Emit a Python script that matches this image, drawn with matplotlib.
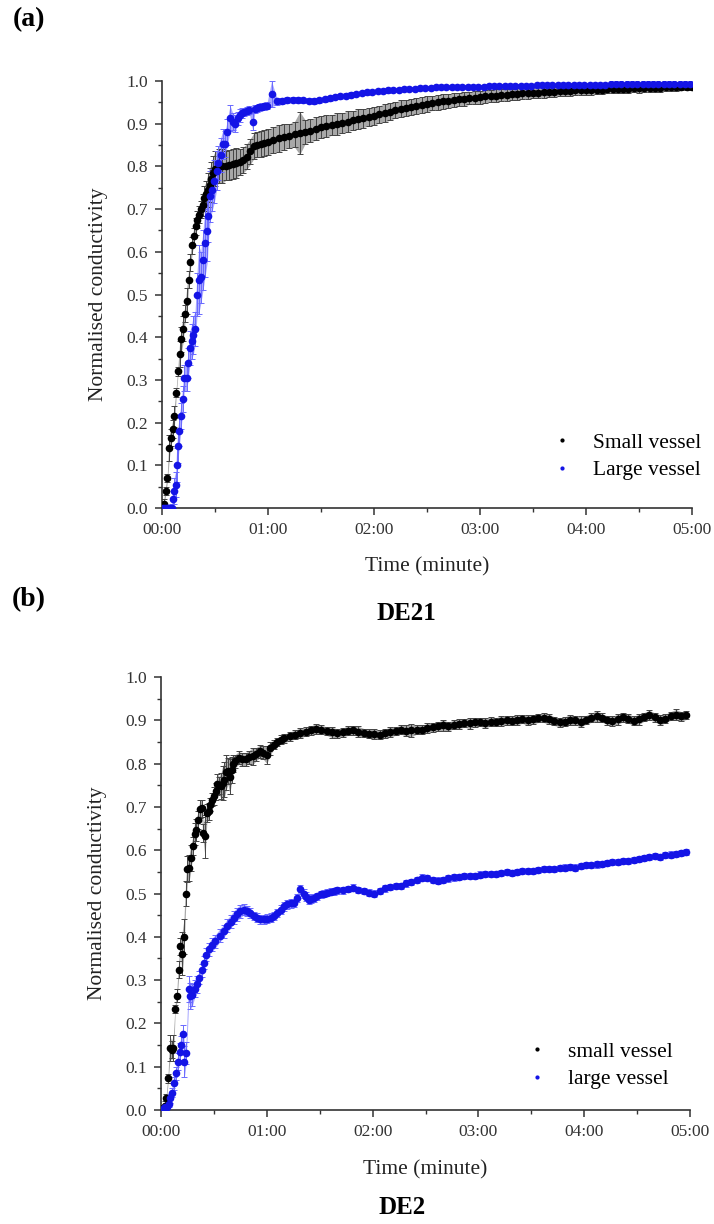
import numpy as np
import matplotlib
matplotlib.use('Agg')
from matplotlib import pyplot as plt

plt.rcParams['font.family'] = ['Liberation Serif', 'DejaVu Serif']

# ---- DE21, small vessel (time in s) ----
a_small_t1 = [0, 1, 2, 3, 4, 5, 6, 7, 8, 9, 10, 11, 12, 13, 14, 15, 16, 17, 18, 19, 20, 21, 22, 23, 24, 25, 26, 27, 28, 29, 30,
              32, 34, 36, 38, 40, 42, 44, 46, 48, 50, 52, 54, 56, 58]
a_small_y1 = [0.0, 0.01, 0.04, 0.07, 0.14, 0.165, 0.185, 0.215, 0.27, 0.32, 0.36, 0.395, 0.42, 0.455, 0.485, 0.535, 0.575,
              0.615, 0.636, 0.66, 0.675, 0.687, 0.70, 0.71, 0.725, 0.735, 0.745, 0.757, 0.77, 0.785, 0.795,
              0.80, 0.80, 0.802, 0.803, 0.805, 0.807, 0.81, 0.815, 0.823, 0.835, 0.848, 0.851, 0.853, 0.855]
a_small_e1 = [0.005, 0.01, 0.01, 0.01, 0.03, 0.02, 0.02, 0.025, 0.01, 0.01, 0.03, 0.03, 0.03, 0.02, 0.03, 0.02, 0.02,
              0.02, 0.02, 0.02, 0.02, 0.02, 0.02, 0.025, 0.03, 0.03, 0.04, 0.04, 0.04, 0.04, 0.04,
              0.04, 0.04, 0.035, 0.035, 0.035, 0.035, 0.03, 0.03, 0.03, 0.03, 0.03, 0.03, 0.03, 0.03]
a_small_t2 = [60, 63, 66, 69, 72, 75, 78, 81, 84, 87, 90, 93, 96, 99, 102, 105, 108, 111, 114, 117,
              120, 123, 126, 129, 132, 135, 138, 141, 144, 147, 150, 153, 156, 159, 162, 165, 168, 171, 174, 177,
              180, 183, 186, 189, 192, 195, 198, 201, 204, 207, 210, 213, 216, 219, 222, 225, 228, 231, 234, 237,
              240, 243, 246, 249, 252, 255, 258, 261, 264, 267, 270, 273, 276, 279, 282, 285, 288, 291, 294, 297, 300]
a_small_y2 = [0.857, 0.862, 0.866, 0.869, 0.872, 0.875, 0.878, 0.881, 0.884, 0.888, 0.892, 0.894, 0.897, 0.899, 0.902,
              0.905, 0.908, 0.911, 0.913, 0.916, 0.918, 0.922, 0.925, 0.928, 0.932, 0.935, 0.937, 0.939, 0.942, 0.944,
              0.946, 0.948, 0.950, 0.952, 0.953, 0.955, 0.957, 0.958, 0.960, 0.961, 0.962, 0.964, 0.965, 0.966, 0.967,
              0.968, 0.969, 0.970, 0.971, 0.972, 0.973, 0.973, 0.974, 0.975, 0.975, 0.976, 0.977, 0.977, 0.978, 0.978,
              0.979, 0.979, 0.980, 0.980, 0.981, 0.981, 0.982, 0.982, 0.982, 0.983, 0.983, 0.983, 0.984, 0.984, 0.984,
              0.985, 0.985, 0.985, 0.986, 0.986, 0.986]
a_small_e2 = [0.03, 0.03, 0.032, 0.03, 0.028, 0.03, 0.05, 0.028, 0.026, 0.027, 0.025, 0.026, 0.024, 0.025, 0.023,
              0.024, 0.022, 0.023, 0.022, 0.021, 0.022, 0.02, 0.021, 0.02, 0.019, 0.02, 0.019, 0.018, 0.019, 0.018,
              0.018, 0.017, 0.018, 0.017, 0.016, 0.017, 0.016, 0.016, 0.015, 0.016, 0.015, 0.015, 0.014, 0.015, 0.014,
              0.014, 0.013, 0.014, 0.013, 0.013, 0.013, 0.012, 0.013, 0.012, 0.012, 0.012, 0.011, 0.012, 0.011, 0.011,
              0.011, 0.011, 0.01, 0.011, 0.01, 0.01, 0.01, 0.01, 0.01, 0.009, 0.01, 0.009, 0.009, 0.009, 0.009,
              0.009, 0.008, 0.009, 0.008, 0.008, 0.008]

# ---- DE21, large vessel ----
a_large_t1 = [0.6, 1.7, 2.6, 3.6, 4.5, 5.5, 6.0, 6.8, 7.7, 8.3, 8.9, 9.8, 10.8, 11.7, 12.6, 14.0, 14.9, 15.8, 16.8, 17.7,
              18.7, 19.8, 20.8, 22.0, 23.2, 24.3, 25.7, 26.2, 27.2, 28.3, 29.6, 30.9, 31.9, 33.2, 34.7, 35.8, 37.0, 38.5,
              40.0, 41.3, 42.8, 44.0, 45.0, 46.5, 48.0, 49.5, 51.3, 52.5, 53.6, 55.0, 56.5, 58.0, 59.5]
a_large_y1 = [0.0, 0.0, 0.0, 0.0, 0.0, 0.0, 0.02, 0.04, 0.055, 0.10, 0.145, 0.18, 0.215, 0.255, 0.305, 0.305, 0.34, 0.375,
              0.39, 0.405, 0.42, 0.50, 0.535, 0.54, 0.58, 0.62, 0.648, 0.683, 0.73, 0.745, 0.765, 0.79, 0.808, 0.827,
              0.853, 0.853, 0.88, 0.913, 0.905, 0.90, 0.913, 0.92, 0.925, 0.927, 0.93, 0.932, 0.905, 0.934, 0.936,
              0.938, 0.94, 0.941, 0.942]
a_large_e1 = [0.005, 0.005, 0.005, 0.005, 0.005, 0.01, 0.02, 0.03, 0.03, 0.04, 0.04, 0.035, 0.03, 0.03, 0.03, 0.03, 0.035,
              0.04, 0.04, 0.045, 0.04, 0.05, 0.08, 0.06, 0.07, 0.08, 0.07, 0.06, 0.06, 0.05, 0.05, 0.045, 0.04, 0.04,
              0.035, 0.03, 0.03, 0.03, 0.02, 0.02, 0.015, 0.015, 0.012, 0.01, 0.01, 0.01, 0.02, 0.01, 0.008, 0.008,
              0.008, 0.008, 0.008]
a_large_t2 = [62, 65, 68, 71, 74, 77, 80, 83, 86, 89, 92, 95, 98, 101, 104, 107, 110, 113, 116, 119,
              122, 125, 128, 131, 134, 137, 140, 143, 146, 149, 152, 155, 158, 161, 164, 167, 170, 173, 176, 179,
              182, 185, 188, 191, 194, 197, 200, 203, 206, 209, 212, 215, 218, 221, 224, 227, 230, 233, 236, 239,
              242, 245, 248, 251, 254, 257, 260, 263, 266, 269, 272, 275, 278, 281, 284, 287, 290, 293, 296, 299]
a_large_y2 = [0.97, 0.952, 0.954, 0.955, 0.956, 0.956, 0.955, 0.954, 0.953, 0.955, 0.957, 0.96, 0.962, 0.964, 0.966,
              0.968, 0.97, 0.972, 0.974, 0.975, 0.976, 0.977, 0.978, 0.979, 0.98, 0.981, 0.982, 0.982, 0.983, 0.984,
              0.984, 0.985, 0.985, 0.985, 0.986, 0.986, 0.986, 0.987, 0.987, 0.987, 0.987, 0.988, 0.988, 0.988, 0.988,
              0.989, 0.989, 0.989, 0.989, 0.989, 0.99, 0.99, 0.99, 0.99, 0.99, 0.99, 0.99, 0.991, 0.991, 0.991,
              0.991, 0.991, 0.991, 0.991, 0.992, 0.992, 0.992, 0.992, 0.992, 0.992, 0.992, 0.992, 0.993, 0.993, 0.993,
              0.993, 0.993, 0.993, 0.993, 0.993]
a_large_e2 = [0.03, 0.008, 0.007, 0.007, 0.006, 0.007, 0.006, 0.006, 0.007, 0.006, 0.006, 0.006, 0.005, 0.006, 0.005,
              0.006, 0.005, 0.005, 0.006, 0.005, 0.005, 0.005, 0.005, 0.005, 0.004, 0.005, 0.004, 0.005, 0.004, 0.004,
              0.004, 0.004, 0.004, 0.004, 0.004, 0.004, 0.004, 0.004, 0.004, 0.004, 0.004, 0.004, 0.004, 0.004, 0.004,
              0.004, 0.004, 0.004, 0.004, 0.004, 0.004, 0.004, 0.004, 0.004, 0.004, 0.004, 0.004, 0.004, 0.004, 0.004,
              0.004, 0.004, 0.004, 0.004, 0.004, 0.004, 0.004, 0.004, 0.004, 0.004, 0.004, 0.004, 0.004, 0.004, 0.004,
              0.004, 0.004, 0.004, 0.004, 0.004]

# ---- DE2, small vessel ----
b_small_t1 = [0, 1, 2, 3, 4, 5, 6, 7, 8, 9, 10, 11, 12, 13, 14, 15, 16, 17, 18, 19, 20, 21, 22, 23, 24, 25, 26, 27, 28, 29,
              30, 31, 32, 33, 34, 35, 36, 37, 38, 39, 40, 41, 42, 44, 46, 48, 50, 52, 54, 56, 58, 60, 62, 64, 66, 68, 70]
b_small_y1 = [0.0, 0.005, 0.01, 0.027, 0.073, 0.143, 0.139, 0.143, 0.233, 0.264, 0.324, 0.378, 0.361, 0.40, 0.50, 0.556,
              0.56, 0.583, 0.61, 0.637, 0.647, 0.67, 0.695, 0.697, 0.64, 0.632, 0.686, 0.69, 0.705, 0.717, 0.725, 0.736,
              0.752, 0.75, 0.748, 0.755, 0.763, 0.78, 0.782, 0.77, 0.786, 0.80, 0.805, 0.813, 0.81, 0.81, 0.815, 0.817,
              0.822, 0.828, 0.825, 0.82, 0.835, 0.844, 0.85, 0.855, 0.858]
b_small_e1 = [0.005, 0.005, 0.01, 0.01, 0.01, 0.03, 0.02, 0.03, 0.01, 0.015, 0.02, 0.02, 0.05, 0.04, 0.03, 0.03, 0.03,
              0.03, 0.02, 0.025, 0.025, 0.02, 0.02, 0.02, 0.02, 0.05, 0.02, 0.02, 0.015, 0.015, 0.02, 0.02, 0.025,
              0.02, 0.03, 0.04, 0.04, 0.04, 0.03, 0.04, 0.03, 0.02, 0.015, 0.015, 0.015, 0.015, 0.015, 0.02, 0.015,
              0.015, 0.015, 0.02, 0.015, 0.01, 0.01, 0.01, 0.01]
b_small_t2 = [73, 76, 79, 82, 85, 88, 91, 94, 97, 100, 103, 106, 109, 112, 115, 118, 121, 124, 127, 130,
              133, 136, 139, 142, 145, 148, 151, 154, 157, 160, 163, 166, 169, 172, 175, 178, 181, 184, 187, 190,
              193, 196, 199, 202, 205, 208, 211, 214, 217, 220, 223, 226, 229, 232, 235, 238, 241, 244, 247, 250,
              253, 256, 259, 262, 265, 268, 271, 274, 277, 280, 283, 286, 289, 292, 295, 298]
b_small_y2 = [0.863, 0.867, 0.871, 0.874, 0.877, 0.88, 0.878, 0.875, 0.872, 0.87, 0.872, 0.876, 0.877, 0.874, 0.871,
              0.869, 0.868, 0.867, 0.87, 0.873, 0.875, 0.878, 0.876, 0.877, 0.878, 0.878, 0.882, 0.884, 0.886, 0.888,
              0.886, 0.89, 0.892, 0.894, 0.893, 0.895, 0.896, 0.894, 0.897, 0.896, 0.898, 0.9, 0.899, 0.901, 0.903,
              0.9, 0.902, 0.905, 0.906, 0.903, 0.898, 0.895, 0.897, 0.901, 0.9, 0.897, 0.901, 0.906, 0.909, 0.906,
              0.9, 0.898, 0.902, 0.907, 0.904, 0.899, 0.902, 0.908, 0.912, 0.907, 0.901, 0.904, 0.91, 0.913, 0.909, 0.912]
b_small_e2 = [0.01, 0.01, 0.012, 0.01, 0.01, 0.012, 0.01, 0.01, 0.012, 0.01, 0.01, 0.011, 0.01, 0.012, 0.01,
              0.01, 0.012, 0.01, 0.01, 0.011, 0.01, 0.01, 0.012, 0.015, 0.01, 0.01, 0.011, 0.01, 0.01, 0.012,
              0.01, 0.01, 0.011, 0.01, 0.012, 0.01, 0.01, 0.011, 0.01, 0.01, 0.012, 0.01, 0.01, 0.011, 0.01,
              0.012, 0.01, 0.01, 0.011, 0.012, 0.01, 0.01, 0.011, 0.012, 0.01, 0.013, 0.01, 0.011, 0.012, 0.01,
              0.01, 0.011, 0.012, 0.01, 0.011, 0.01, 0.012, 0.01, 0.011, 0.01, 0.012, 0.01, 0.01, 0.012, 0.011, 0.01]

# ---- DE2, large vessel ----
b_large_t1 = [0.5, 1.5, 2.5, 3.4, 4.3, 5.3, 6.2, 7.2, 8.5, 9.6, 10.6, 11.5, 12.5, 13.3, 14.2, 15.7, 16.7, 17.8, 19.1,
              20.4, 21.8, 23.3, 24.6, 25.8, 27.1, 29.0, 30.9, 33.3, 35.6, 37.4, 39.5, 41.2, 43.0, 45.0, 47.0, 48.8,
              50.7, 52.6, 54.5, 56.4, 58.3, 60.2, 62.1, 64.0, 65.9, 67.8, 69.7, 71.6, 73.5, 75.3, 77.2, 79.0, 81.0,
              82.5, 83.9, 85.3, 86.7, 88.6, 90.5, 92.4, 94.3, 96.2, 98.0]
b_large_y1 = [0.0, 0.004, 0.006, 0.008, 0.015, 0.027, 0.04, 0.062, 0.085, 0.112, 0.135, 0.15, 0.176, 0.112, 0.131,
              0.28, 0.263, 0.266, 0.28, 0.29, 0.305, 0.323, 0.34, 0.359, 0.371, 0.382, 0.39, 0.403, 0.413, 0.425,
              0.435, 0.444, 0.452, 0.459, 0.463, 0.46, 0.455, 0.448, 0.444, 0.44, 0.44, 0.442, 0.444, 0.448, 0.455,
              0.463, 0.47, 0.475, 0.477, 0.478, 0.49, 0.51, 0.50, 0.493, 0.486, 0.488, 0.49, 0.494, 0.498, 0.5,
              0.502, 0.504, 0.505]
b_large_e1 = [0.003, 0.005, 0.005, 0.005, 0.008, 0.01, 0.01, 0.015, 0.015, 0.02, 0.02, 0.02, 0.02, 0.035, 0.025,
              0.03, 0.03, 0.025, 0.02, 0.02, 0.015, 0.015, 0.015, 0.015, 0.015, 0.015, 0.015, 0.015, 0.015, 0.015,
              0.015, 0.015, 0.015, 0.015, 0.012, 0.012, 0.012, 0.01, 0.01, 0.01, 0.01, 0.01, 0.01, 0.01, 0.01,
              0.01, 0.01, 0.01, 0.01, 0.01, 0.01, 0.01, 0.01, 0.01, 0.01, 0.01, 0.01, 0.008, 0.008, 0.008,
              0.008, 0.008, 0.008]
b_large_t2 = [100, 103, 106, 109, 112, 115, 118, 121, 124, 127, 130, 133, 136, 139, 142, 145, 148, 151, 154, 157,
              160, 163, 166, 169, 172, 175, 178, 181, 184, 187, 190, 193, 196, 199, 202, 205, 208, 211, 214, 217,
              220, 223, 226, 229, 232, 235, 238, 241, 244, 247, 250, 253, 256, 259, 262, 265, 268, 271, 274, 277,
              280, 283, 286, 289, 292, 295, 298]
b_large_y2 = [0.507, 0.508, 0.51, 0.513, 0.509, 0.505, 0.502, 0.50, 0.506, 0.512, 0.515, 0.517, 0.517, 0.524, 0.527,
              0.532, 0.536, 0.535, 0.532, 0.53, 0.532, 0.535, 0.537, 0.538, 0.54, 0.54, 0.541, 0.543, 0.545, 0.544,
              0.546, 0.548, 0.549, 0.548, 0.55, 0.552, 0.553, 0.552, 0.555, 0.556, 0.557, 0.556, 0.559, 0.56, 0.561,
              0.56, 0.563, 0.565, 0.566, 0.567, 0.569, 0.57, 0.572, 0.573, 0.575, 0.576, 0.578, 0.579, 0.582, 0.584,
              0.586, 0.585, 0.589, 0.59, 0.592, 0.593, 0.595]
b_large_e2 = [0.008, 0.008, 0.007, 0.008, 0.007, 0.007, 0.008, 0.007, 0.007, 0.008, 0.007, 0.007, 0.007, 0.008, 0.007,
              0.007, 0.008, 0.007, 0.007, 0.007, 0.007, 0.008, 0.007, 0.007, 0.007, 0.007, 0.007, 0.008, 0.007, 0.007,
              0.007, 0.007, 0.007, 0.007, 0.007, 0.007, 0.007, 0.007, 0.007, 0.007, 0.007, 0.007, 0.007, 0.007, 0.007,
              0.007, 0.007, 0.007, 0.007, 0.007, 0.007, 0.007, 0.007, 0.007, 0.007, 0.007, 0.007, 0.007, 0.007, 0.007,
              0.007, 0.007, 0.007, 0.007, 0.007, 0.007, 0.007]

tick_pos = [0, 60, 120, 180, 240, 300]
tick_lab = ['00:00', '01:00', '02:00', '03:00', '04:00', '05:00']

W, H = 714, 1224
fig = plt.figure(figsize=(W / 100, H / 100), dpi=100)


def series(ax, t, y, e, col, band, ecol, lab):
    t, y, e = np.array(t), np.array(y), np.array(e)
    ax.fill_between(t, y - e, y + e, color=band, lw=0, zorder=1)
    ax.errorbar(t, y, yerr=e, fmt='none', ecolor=ecol, elinewidth=0.7, capsize=2.5, capthick=0.7, zorder=2)
    ax.plot(t, y, 'o', color=col, ms=5.5, mec='none', zorder=3, label=lab)


def style(ax):
    for s in ['top', 'right']:
        ax.spines[s].set_visible(False)
    for s in ['left', 'bottom']:
        ax.spines[s].set_linewidth(1.2)
        ax.spines[s].set_color('#333333')
    ax.set_xlim(0, 300); ax.set_ylim(0, 1.0)
    ax.set_xticks(tick_pos); ax.set_xticklabels(tick_lab)
    ax.set_xticks([30, 90, 150, 210, 270], minor=True)
    ax.set_yticks(np.arange(0, 1.01, 0.1))
    ax.set_yticks(np.arange(0.05, 1.0, 0.1), minor=True)
    ax.yaxis.set_major_formatter(plt.FormatStrFormatter('%.1f'))
    ax.tick_params(which='major', direction='out', length=5, width=1.1, color='#333333', labelsize=12.5,
                   labelcolor='#333333', pad=5)
    ax.tick_params(which='minor', direction='out', length=3, width=1.0, color='#333333')
    ax.set_ylabel('Normalised conductivity', fontsize=15.5, color='#222222')
    ax.yaxis.set_label_coords(-0.102, 0.5)
    ax.set_xlabel('Time (minute)', fontsize=15.5, color='#222222', va='center')
    ax.xaxis.set_label_coords(0.5, -0.138)


# panel (a)
ax1 = fig.add_axes([162 / W, 1 - 508 / H, 530 / W, 427 / H])
series(ax1, a_small_t1 + a_small_t2, a_small_y1 + a_small_y2, a_small_e1 + a_small_e2,
       'black', '#a8a8a8', '#444444', 'Small vessel')
series(ax1, a_large_t1 + a_large_t2, a_large_y1 + a_large_y2, a_large_e1 + a_large_e2,
       '#1414e6', '#a8a8ff', '#6a6aff', 'Large vessel')
style(ax1)
ax1.legend(loc='center left', bbox_to_anchor=(540 / W, 1 - 456.5 / H), bbox_transform=fig.transFigure,
           frameon=False, fontsize=15.5, borderpad=0, handlelength=1.0, handletextpad=0.97,
           labelspacing=0.35, markerscale=0.55)

# panel (b)
ax2 = fig.add_axes([161 / W, 1 - 1110 / H, 529 / W, 433 / H])
series(ax2, b_small_t1 + b_small_t2, b_small_y1 + b_small_y2, b_small_e1 + b_small_e2,
       'black', '#a8a8a8', '#444444', 'small vessel')
series(ax2, b_large_t1 + b_large_t2, b_large_y1 + b_large_y2, b_large_e1 + b_large_e2,
       '#1414e6', '#a8a8ff', '#6a6aff', 'large vessel')
style(ax2)
ax2.legend(loc='center left', bbox_to_anchor=(515 / W, 1 - 1065.5 / H), bbox_transform=fig.transFigure,
           frameon=False, fontsize=15.5, borderpad=0, handlelength=1.0, handletextpad=0.97,
           labelspacing=0.35, markerscale=0.55)

fig.text(13 / W, 1 - 20 / H, '(a)', fontsize=20, fontweight='bold', va='center', ha='left')
fig.text(12 / W, 1 - 600 / H, '(b)', fontsize=20, fontweight='bold', va='center', ha='left')
fig.text(406 / W, 1 - 613 / H, 'DE21', fontsize=18, fontweight='bold', va='center', ha='center')
fig.text(402 / W, 1 - 1208 / H, 'DE2', fontsize=18, fontweight='bold', va='center', ha='center')

fig.savefig('out.png', dpi=100)
